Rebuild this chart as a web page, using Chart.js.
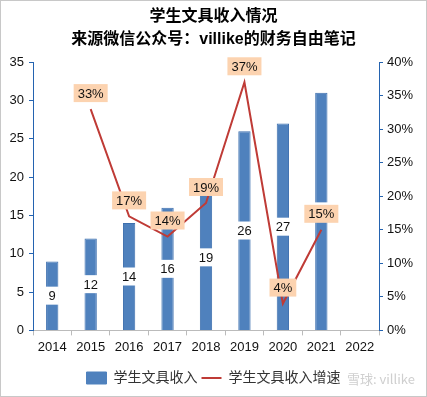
<!DOCTYPE html>
<html>
<head>
<meta charset="utf-8">
<script src="https://cdn.jsdelivr.net/npm/chart.js@4.4.1/dist/chart.umd.min.js"></script>
<style>
  html, body { margin: 0; padding: 0; background: #fff; }
  #wrap { width: 427px; height: 397px; }
</style>
</head>
<body>
<div id="wrap"><canvas id="incomeChart" width="427" height="397"></canvas></div>
<script>
// data
var years = ['2014', '2015', '2016', '2017', '2018', '2019', '2020', '2021', '2022'];
var income = [9, 12, 14, 16, 19, 26, 27, 31, null];
var growth = [null, 33, 17, 14, 19, 37, 4, 15, null];   // %
var leftTicks = [0, 5, 10, 15, 20, 25, 30, 35];
var rightTicks = [0, 5, 10, 15, 20, 25, 30, 35, 40];

Chart.defaults.font.family = '"Liberation Sans", Arial, "Noto Sans CJK SC", sans-serif';
Chart.defaults.font.size = 13;
Chart.defaults.color = '#111';

var axisBlue = '#2463b0';

// white boxes under bar values, peach boxes over growth points
var labelPlugin = {
    id: 'valueLabels',
    afterDatasetDraw: function (chart, args) {
        if (args.index !== 0) return;
        var ctx = chart.ctx;
        ctx.save();
        ctx.font = '13px "Liberation Sans", Arial, sans-serif';
        ctx.textAlign = 'center';
        ctx.textBaseline = 'middle';
        args.meta.data.forEach(function (bar, i) {
            if (income[i] == null) return;
            var y = (bar.y + bar.base) / 2;
            var t = String(income[i]);
            var w = ctx.measureText(t).width + 6;
            ctx.fillStyle = '#fff';
            ctx.fillRect(bar.x - w / 2, y - 9, w, 18);
            ctx.fillStyle = '#111';
            ctx.fillText(t, bar.x, y + 1);
        });
        ctx.restore();
    },
    afterDatasetsDraw: function (chart) {
        var ctx = chart.ctx;
        ctx.save();
        ctx.font = '13px "Liberation Sans", Arial, sans-serif';
        ctx.textAlign = 'center';
        ctx.textBaseline = 'middle';
        chart.getDatasetMeta(1).data.forEach(function (pt, i) {
            if (growth[i] == null) return;
            var t = growth[i] + '%';
            var w = ctx.measureText(t).width + 8;
            var y = pt.y - 16;
            ctx.fillStyle = '#fcd3b0';
            ctx.fillRect(pt.x - w / 2, y - 9, w, 18);
            ctx.fillStyle = '#111';
            ctx.fillText(t, pt.x, y + 1);
        });
        ctx.restore();
    },
    beforeDraw: function (chart) {
        var ctx = chart.ctx;
        ctx.save();
        ctx.fillStyle = '#fff';
        ctx.fillRect(0, 0, chart.width, chart.height);
        ctx.restore();
    },
    afterDraw: function (chart) {
        var ctx = chart.ctx;
        ctx.save();
        ctx.font = '13px "Noto Sans CJK SC", "Liberation Sans", sans-serif';
        ctx.fillStyle = '#cfcfcf';
        ctx.textBaseline = 'middle';
        ctx.fillText('雪球: villike', 347, 379);
        ctx.strokeStyle = '#c8c8c8';
        ctx.lineWidth = 1;
        ctx.strokeRect(0.5, 0.5, chart.width - 1, chart.height - 1);
        ctx.restore();
    }
};

var ctx = document.getElementById('incomeChart').getContext('2d');
var incomeChart = new Chart(ctx, {
    type: 'bar',
    data: {
        labels: years,
        datasets: [{
            type: 'bar',
            label: '学生文具收入',
            data: income,
            backgroundColor: '#4f81bd',
            borderColor: '#3d6fae',
            borderWidth: 1,
            barPercentage: 0.32,
            categoryPercentage: 1,
            yAxisID: 'y',
            order: 1
        }, {
            type: 'line',
            label: '学生文具收入增速',
            data: growth,
            borderColor: '#bf3b36',
            backgroundColor: '#bf3b36',
            borderWidth: 2,
            pointRadius: 0,
            tension: 0,
            yAxisID: 'y1',
            order: 0
        }]
    },
    plugins: [labelPlugin],
    options: {
        responsive: false,
        animation: false,
        layout: { padding: { left: 0, right: 0, top: 0, bottom: 2 } },
        scales: {
            x: {
                offset: true,
                afterFit: function (s) { s.height += 8; },
                grid: { offset: true, drawOnChartArea: false, tickLength: 5, color: '#bbb' },
                border: { color: '#bbb' },
                ticks: { padding: 4, color: '#111' }
            },
            y: {
                position: 'left',
                min: 0,
                max: 35,
                afterBuildTicks: function (s) { s.ticks = leftTicks.map(function (v) { return { value: v }; }); },
                afterFit: function (s) { s.width = 33; },
                grid: { drawOnChartArea: false, tickLength: 4, color: axisBlue },
                border: { color: axisBlue },
                ticks: { padding: 5, color: '#111' }
            },
            y1: {
                position: 'right',
                min: 0,
                max: 40,
                afterBuildTicks: function (s) { s.ticks = rightTicks.map(function (v) { return { value: v }; }); },
                afterFit: function (s) { s.width = 48; },
                grid: { drawOnChartArea: false, tickLength: 4, color: axisBlue },
                border: { color: axisBlue },
                ticks: { padding: 4, color: '#111', callback: function (v) { return v + '%'; } }
            }
        },
        plugins: {
            title: {
                display: true,
                text: ['学生文具收入情况', '来源微信公众号：villike的财务自由笔记'],
                color: '#000',
                font: { size: 16, weight: 'bold', lineHeight: 1.38 },
                padding: { top: 6, bottom: 12 }
            },
            legend: {
                position: 'bottom',
                labels: {
                    usePointStyle: true,
                    pointStyleWidth: 20,
                    boxHeight: 12,
                    color: '#333',
                    font: { size: 14 },
                    padding: 4,
                    generateLabels: function (chart) {
                        var items = Chart.defaults.plugins.legend.labels.generateLabels(chart);
                        items.sort(function (a, b) { return a.datasetIndex - b.datasetIndex; });
                        items[0].pointStyle = 'rect';
                        items[0].fillStyle = '#4f81bd';
                        items[0].strokeStyle = '#4f81bd';
                        items[1].pointStyle = 'line';
                        items[1].strokeStyle = '#bf3b36';
                        items[1].lineWidth = 2;
                        return items;
                    }
                }
            },
            tooltip: { enabled: false }
        }
    }
});
</script>
</body>
</html>
